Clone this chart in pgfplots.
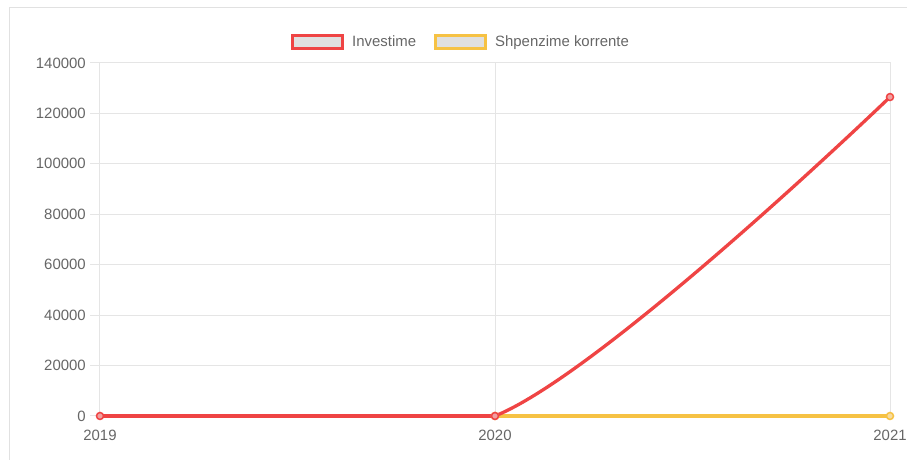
\documentclass[border=0pt]{standalone}
\usepackage{pgfplots}
\pgfplotsset{compat=1.18}
\usepackage{fontspec}
\setmainfont{Liberation Sans}
\definecolor{lineRed}{RGB}{239,68,68}
\definecolor{markRed}{RGB}{240,160,160}
\definecolor{lineYel}{RGB}{246,194,68}
\definecolor{markYel}{RGB}{246,220,160}
\definecolor{gridc}{RGB}{229,229,229}
\definecolor{txt}{RGB}{102,102,102}
\definecolor{legfill}{RGB}{224,224,224}
\definecolor{cardc}{RGB}{225,225,225}
\begin{document}
\begin{tikzpicture}
\path[use as bounding box] (0,0) rectangle (907bp,460bp);
\draw[cardc, line width=1bp] (9.5bp,0) -- (9.5bp,452.5bp) -- (907bp,452.5bp);
\begin{axis}[
  at={(100bp,42.5bp)}, anchor=south west,
  scale only axis, width=790bp, height=354.5bp,
  xmin=0, xmax=2, ymin=-600, ymax=140000,
  xtick={0,1,2}, xticklabels={2019,2020,2021},
  ytick={0,20000,40000,60000,80000,100000,120000,140000},
  ytick pos=left, xtick pos=bottom,
  scaled y ticks=false,
  /pgf/number format/assume math mode=true,
  yticklabel style={/pgf/number format/fixed, /pgf/number format/1000 sep={}, anchor=east, inner sep=0pt, xshift=-4bp},
  xticklabel style={anchor=north, inner sep=0pt, yshift=-2bp},
  grid=major, grid style={gridc, line width=1bp},
  axis line style={gridc, line width=1bp},
  tick align=outside, major tick length=10bp,
  xtick style={draw=none},
  ytick style={gridc, line width=1bp},
  ticklabel style={font=\fontsize{15}{18}\selectfont, text=txt},
  legend columns=2,
  legend style={at={(0.4570,1.0592)}, anchor=center, draw=none, fill=none,
    font=\fontsize{15}{18}\selectfont, text=txt,
    /tikz/every odd column/.append style={column sep=6bp},
    /tikz/every even column/.append style={column sep=16bp}},
  legend cell align=left,
]
\addlegendimage{legend image code/.code={\draw[lineRed, line width=3bp, fill=legfill] (0bp,-6.5bp) rectangle (50bp,6.5bp);}}
\addlegendentry{Investime}
\addlegendimage{legend image code/.code={\draw[lineYel, line width=3bp, fill=legfill] (0bp,-6.5bp) rectangle (50bp,6.5bp);}}
\addlegendentry{Shpenzime korrente}

\addplot[lineYel, line width=3.2bp, mark=*, mark size=3.5bp, mark options={draw=lineYel, fill=markYel, line width=1.5bp}, forget plot]
  coordinates {(1,0) (2,0)};
\addplot[lineRed, line width=3.3bp, forget plot] coordinates {(0,0) (1,0)};
\addplot[lineRed, line width=3.3bp, smooth, mark=*, mark size=3.5bp, mark options={draw=lineRed, fill=markRed, line width=1.5bp}, forget plot]
  coordinates {(0,0) (1,0) (2,126500)};
\end{axis}
\end{tikzpicture}
\end{document}
